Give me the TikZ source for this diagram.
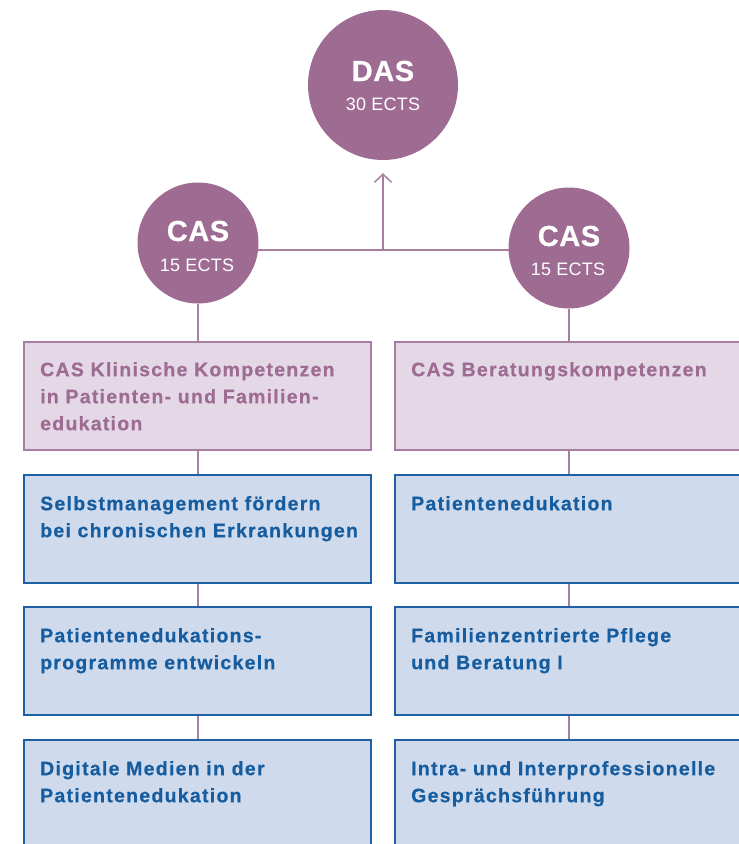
\documentclass[tikz,border=0pt]{standalone}
\usepackage{fontspec}
\setmainfont{Liberation Sans}
\newfontfamily\boxfont[LetterSpace=6.5,BoldFeatures={FakeBold=0.5}]{Liberation Sans}
\newfontfamily\circfont[LetterSpace=2,BoldFeatures={FakeBold=0.5}]{Liberation Sans}
\newfontfamily\subfont[LetterSpace=1.5]{Liberation Sans}
\usetikzlibrary{arrows.meta,backgrounds}

\definecolor{plum}{RGB}{158,107,147}
\definecolor{plumline}{RGB}{167,125,161}
\definecolor{lilac}{RGB}{228,216,230}
\definecolor{skyfill}{RGB}{207,218,237}
\definecolor{navy}{RGB}{30,96,163}
\definecolor{navytext}{RGB}{22,93,160}

\begin{document}
\begin{tikzpicture}[x=1pt,y=-1pt,
  circ/.style={circle,fill=plum,draw=none,minimum size=#1,inner sep=0pt},
  ctitle/.style={anchor=base,inner sep=0pt,text=white,font={\circfont\bfseries\fontsize{29}{30}\selectfont}},
  csub/.style={anchor=base,inner sep=0pt,text=white,font={\subfont\fontsize{18}{20}\selectfont}},
  casbox/.style={rectangle,draw=plumline,line width=1.5pt,fill=lilac,minimum height=108pt,inner sep=0pt},
  modbox/.style={rectangle,draw=navy,line width=2pt,fill=skyfill,minimum height=108pt,inner sep=0pt},
  lcol/.style={minimum width=347pt},
  rcol/.style={minimum width=365pt},
  boxtext/.style={anchor=north west,inner sep=0pt,align=left,font={\boxfont\bfseries\fontsize{19.5}{27}\selectfont}},
  castext/.style={boxtext,text=plum},
  modtext/.style={boxtext,text=navytext},
  conn/.style={draw=plumline,line width=1.6pt},
  upto/.style={conn,-{Straight Barb[length=8pt,width=17pt,line width=1.5pt]},shorten >=13pt}
]
\clip (0,0) rectangle (739,844);

% programme levels
\node[circ=150pt] (das) at (383,85) {};
\node[ctitle] (das-t) at (383,81) {DAS};
\node[csub] (das-s) at (383,110) {30 ECTS};

\node[circ=121pt] (lc) at (198,243) {};
\node[ctitle] (lc-t) at (198,241) {CAS};
\node[csub] (lc-s) at (197,271) {15 ECTS};

\node[circ=121pt] (rc) at (569,248) {};
\node[ctitle] (rc-t) at (569,246) {CAS};
\node[csub] (rc-s) at (568,275) {15 ECTS};

% left column
\node[casbox,lcol] (lp) at (197.5,396) {};
\node[modbox,lcol] (lb1) at (197.5,528.5) {};
\node[modbox,lcol] (lb2) at (197.5,661) {};
\node[modbox,lcol] (lb3) at (197.5,794) {};

% right column
\node[casbox,rcol] (rp) at (577.5,396) {};
\node[modbox,rcol] (rb1) at (577.5,528.5) {};
\node[modbox,rcol] (rb2) at (577.5,661) {};
\node[modbox,rcol] (rb3) at (577.5,794) {};

% box texts
\node[castext] (lp-t) at (40,361) {\rule{0pt}{15pt}CAS Klinische Kompetenzen\\in Patienten- und Familien-\\edukation};
\node[modtext] (lb1-t) at (40,495) {\rule{0pt}{15pt}Selbstmanagement fördern\\bei chronischen Erkrankungen};
\node[modtext] (lb2-t) at (40,627) {\rule{0pt}{15pt}Patientenedukations-\\programme entwickeln};
\node[modtext] (lb3-t) at (40,760) {\rule{0pt}{15pt}Digitale Medien in der\\Patientenedukation};

\node[castext] (rp-t) at (411,361) {\rule{0pt}{15pt}CAS Beratungskompetenzen};
\node[modtext] (rb1-t) at (411,495) {\rule{0pt}{15pt}Patientenedukation};
\node[modtext] (rb2-t) at (411,627) {\rule{0pt}{15pt}Familienzentrierte Pflege\\und Beratung I};
\node[modtext] (rb3-t) at (411,760) {\rule{0pt}{15pt}Intra- und Interprofessionelle\\Gesprächsführung};

% connectors
\coordinate (j) at (383,250);
\begin{pgfonlayer}{background}
  \draw[conn] (lc.center |- j) -- (rc.center |- j);
\end{pgfonlayer}
\draw[upto] (j) -- (das);

\draw[conn] (lc.south) -- (lc.south |- lp.north);
\draw[conn] (lc.south |- lp.south) -- (lc.south |- lb1.north);
\draw[conn] (lc.south |- lb1.south) -- (lc.south |- lb2.north);
\draw[conn] (lc.south |- lb2.south) -- (lc.south |- lb3.north);

\draw[conn] (rc.south) -- (rc.south |- rp.north);
\draw[conn] (rc.south |- rp.south) -- (rc.south |- rb1.north);
\draw[conn] (rc.south |- rb1.south) -- (rc.south |- rb2.north);
\draw[conn] (rc.south |- rb2.south) -- (rc.south |- rb3.north);
\end{tikzpicture}
\end{document}
